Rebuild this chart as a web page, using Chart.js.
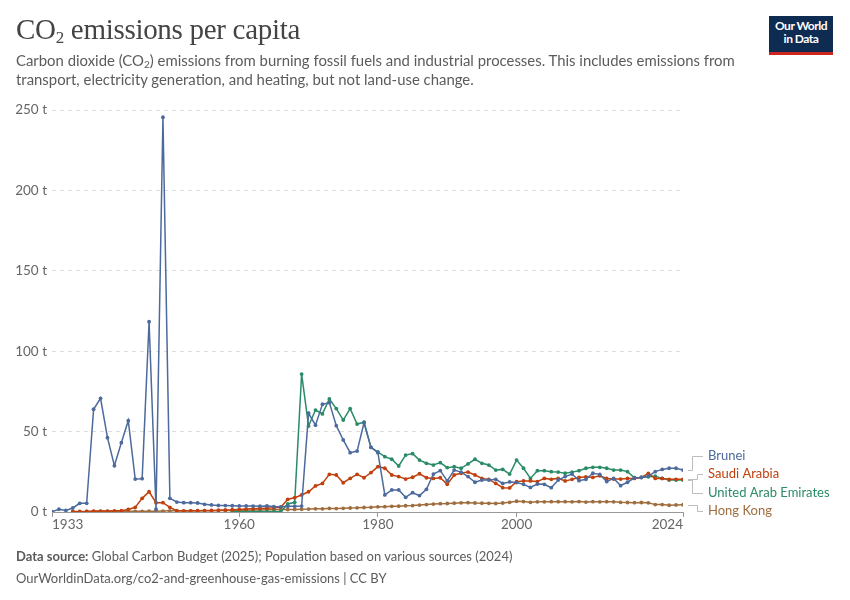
<!DOCTYPE html>
<html>
<head>
<meta charset="utf-8">
<script src="https://cdn.jsdelivr.net/npm/chart.js@4"></script>
<style>
  body { margin: 0; background: #fff; font-family: Lato, sans-serif; }
  #wrap { position: relative; width: 850px; height: 600px; overflow: hidden; }
  #chart { position: absolute; left: 0; top: 0; }
  .title { position: absolute; left: 16px; top: 13px; font-family: "Liberation Serif", serif; font-size: 29px; color: #444; letter-spacing: -0.3px; }
  .title sub { font-size: 17px; vertical-align: -4px; line-height: 0; }
  .subtitle { position: absolute; left: 16px; top: 51px; width: 760px; font-size: 14.9px; line-height: 19px; color: #5b5b5b; }
  .subtitle sub { font-size: 10px; vertical-align: -2px; line-height: 0; }
  .logo { position: absolute; left: 769px; top: 16px; width: 64px; height: 33px; background: #0e2b52; border-bottom: 3px solid #ce261e; color: #fff; font-size: 12px; font-weight: bold; line-height: 13px; text-align: center; padding-top: 3px; box-sizing: content-box; letter-spacing: -0.5px; }
  .footer { position: absolute; left: 16px; top: 545px; font-size: 13px; line-height: 22px; color: #5b5b5b; }
  .footer b { font-weight: bold; }
</style>
</head>
<body>
<div id="wrap">
  <canvas id="chart" width="850" height="600"></canvas>
  <div class="title">CO<sub>2</sub> emissions per capita</div>
  <div class="subtitle">Carbon dioxide (CO<sub>2</sub>) emissions from burning fossil fuels and industrial processes. This includes emissions from transport, electricity generation, and heating, but not land-use change.</div>
  <div class="logo">Our World<br>in Data</div>
  <div class="footer"><b>Data source:</b> Global Carbon Budget (2025); Population based on various sources (2024)<br>OurWorldinData.org/co2-and-greenhouse-gas-emissions | CC BY</div>
</div>
<script>
// years 1933..2024, one value per year (null = no data)
const firstYear = 1933;
const lastYear = 2024;
const xTicks = [1933, 1960, 1980, 2000, 2024];
const yTicks = [0, 50, 100, 150, 200, 250];

const brunei = [
  0.2, 1.7, 1.0, 2.5, 5.4, 5.4, 63.9, 70.7, 46.2, 28.8, 43.1, 56.8, 20.5, 20.7, 118.3, 1.7, 245.5,
  8.5, 6.2, 5.8, 5.8, 5.6, 4.8, 4.4, 4.1, 4.0, 3.9,
  3.8, 3.8, 3.7, 3.6, 3.8, 3.4, 3.2, 3.5, 3.6, 3.7,
  61.4, 54, 67, 68, 53.7, 44.8, 36.9, 37.9, 55.5, 40.2,
  36.9, 10.6, 13.7, 13.7, 9.1, 12, 10.2, 14.1, 23.6, 25.7,
  19.3, 26.1, 24.8, 22, 18.5, 19.9, 19.9, 20.3, 17.8, 18.7,
  18.3, 17.2, 15.3, 17.4, 17.2, 15.1, 19.9, 22, 23.6, 19.5,
  20.3, 24.1, 23.4, 18.9, 20.9, 16.4, 18.5, 21.3, 21.5, 22.3,
  25.1, 26.5, 27.2, 27.2, 26.1
];

const saudiArabia = [
  null, null, null, 0.2, 0.2, 0.3, 0.5, 0.6, 0.6, 0.7, 0.8, 1.6, 2.9, 8.5, 12.6, 5.8, 5.8,
  2.9, 0.8, 0.6, 0.7, 0.8, 0.9, 1.0, 1.1, 1.3, 1.4,
  1.6, 1.8, 2.0, 2.2, 2.4, 2.6, 3.0, 7.9, 8.9, 10.6,
  12.6, 16.2, 17.8, 23.4, 23, 18.2, 20.9, 23.4, 21.3, 24.5,
  28.2, 27.2, 23, 22, 20.5, 21.6, 23.8, 21.3, 20.9, 21.3,
  17.2, 23, 24.1, 24.8, 23, 20.9, 20.3, 17.8, 15.1, 15,
  18.9, 19.3, 19.3, 18.9, 20.9, 20.3, 20.9, 19.3, 20.3, 21.5,
  21.9, 21.5, 22.5, 20.9, 20.5, 20.5, 20.9, 20.9, 21.5, 24,
  20.9, 20.9, 20.3, 20.3, 20.3
];

const uae = [
  null, null, null, null, null, null, null, null, null, null, null, null, null, null, null, null, null,
  null, null, null, null, null, null, null, null, null, 0.2,
  0.2, 0.2, 0.2, 0.2, 0.2, 0.2, 0.2, 5, 6, 85.8,
  53.5, 63.4, 61, 70.3, 64.3, 57.2, 64.3, 54.7, 55.8, 40.2,
  37.3, 34.4, 32.8, 28.6, 35.4, 36.3, 32.3, 30.3, 29.2, 30.7,
  27.6, 28.2, 27.2, 29.9, 32.8, 30.3, 29.2, 26.1, 26.5, 23.6,
  32.3, 27.2, 20.9, 25.7, 25.7, 25.1, 24.8, 24.1, 24.8, 25.7,
  27.2, 27.8, 27.8, 27.2, 26.1, 26.1, 25.1, 21.3, 21.5, 21.9,
  22.3, 20.9, 19.9, 19.9, 19.9
];

const hongKong = [
  null, null, null, 0.3, 0.3, 0.3, 0.4, 0.4, 0.4, 0.4, 0.4, 0.4, 0.4, 0.4, 0.5, 0.5, 0.6,
  0.7, 0.7, 0.7, 0.7, 0.8, 0.8, 0.8, 0.9, 0.9, 1.0,
  1.1, 1.1, 1.2, 1.3, 1.4, 1.4, 1.5, 1.5, 1.6, 1.7,
  1.8, 2.0, 2.0, 2.2, 2.1, 2.3, 2.5, 2.6, 2.8, 2.9,
  3.2, 3.3, 3.5, 3.6, 3.9, 4.0, 4.3, 4.6, 4.9, 5.2,
  5.3, 5.5, 5.7, 5.8, 5.6, 5.5, 5.4, 5.3, 5.6, 6.0,
  6.7, 6.5, 6.0, 6.3, 6.3, 6.4, 6.4, 6.4, 6.3, 6.5,
  6.2, 6.4, 6.3, 6.4, 6.3, 6.0, 5.9, 5.8, 5.9, 5.7,
  4.6, 4.6, 4.2, 4.4, 4.5
];

const seriesNames = ['Brunei', 'Saudi Arabia', 'United Arab Emirates', 'Hong Kong'];
const seriesColors = ['#4c6a9c', '#c0400e', '#2a8c67', '#9f6e3f'];
const seriesValues = [brunei, saudiArabia, uae, hongKong];

const years = [];
for (let y = firstYear; y <= lastYear; y++) years.push(y);

const FONT = 'Lato, sans-serif';

// line-end labels with little elbow connectors
const endLabels = {
    id: 'endLabels',
    afterDatasetsDraw(chart) {
        const ctx = chart.ctx;
        const gap = 18.5;
        const items = chart.data.datasets.map((ds, i) => {
            const pts = chart.getDatasetMeta(i).data;
            const last = pts[pts.length - 1];
            return { name: ds.label, color: ds.borderColor, x: last.x, y: last.y, ly: last.y };
        }).sort((a, b) => a.y - b.y);

        // merge overlapping labels into centred groups
        let groups = items.map(it => ({ items: [it], center: it.y }));
        let changed = true;
        while (changed) {
            changed = false;
            for (let i = 0; i < groups.length - 1; i++) {
                const a = groups[i], b = groups[i + 1];
                const aBottom = a.center + (a.items.length - 1) * gap / 2;
                const bTop = b.center - (b.items.length - 1) * gap / 2;
                if (bTop - aBottom < gap) {
                    const all = a.items.concat(b.items);
                    const c = all.reduce((s, it) => s + it.y, 0) / all.length;
                    groups.splice(i, 2, { items: all, center: c });
                    changed = true;
                    break;
                }
            }
        }
        groups.forEach(g => {
            g.items.forEach((it, k) => {
                it.ly = g.center + (k - (g.items.length - 1) / 2) * gap;
            });
        });

        ctx.save();
        ctx.font = '13px ' + FONT;
        ctx.textBaseline = 'middle';
        items.forEach((it) => {
            const elbow = it.x + (Math.abs(it.ly - it.y) > 12 ? 9 : 14);
            ctx.strokeStyle = '#bdbdbd';
            ctx.lineWidth = 1;
            ctx.beginPath();
            ctx.moveTo(it.x + 5, Math.round(it.y) + 0.5);
            ctx.lineTo(elbow + 0.5, Math.round(it.y) + 0.5);
            ctx.lineTo(elbow + 0.5, Math.round(it.ly) + 0.5);
            ctx.lineTo(it.x + 20, Math.round(it.ly) + 0.5);
            ctx.stroke();
            ctx.fillStyle = it.color;
            ctx.fillText(it.name, it.x + 25, it.ly);
        });
        ctx.restore();
    }
};

new Chart(document.getElementById('chart'), {
    type: 'line',
    data: {
        datasets: seriesNames.map((name, i) => ({
            label: name,
            data: seriesValues[i].map((v, j) => ({ x: years[j], y: v })),
            borderColor: seriesColors[i],
            backgroundColor: seriesColors[i],
            borderWidth: 1.5,
            pointRadius: 1.9,
            pointBorderWidth: 0,
            pointBackgroundColor: seriesColors[i],
            tension: 0,
            spanGaps: false
        }))
    },
    options: {
        responsive: false,
        animation: false,
        layout: { padding: { left: 0, top: 110, right: 167, bottom: 58 } },
        plugins: {
            legend: { display: false },
            tooltip: { enabled: false }
        },
        scales: {
            x: {
                type: 'linear',
                min: firstYear,
                max: lastYear,
                afterBuildTicks: (s) => { s.ticks = xTicks.map(v => ({ value: v })); },
                afterFit: (s) => { s.height = 30; },
                ticks: {
                    align: 'inner',
                    maxRotation: 0,
                    padding: 0,
                    color: '#666',
                    font: { family: FONT, size: 13.5 },
                    callback: (v) => String(v)
                },
                grid: { drawOnChartArea: false, drawTicks: true, tickLength: 5, tickColor: '#999' },
                border: { display: true, color: '#999', width: 1 }
            },
            y: {
                min: 0,
                max: 250,
                afterBuildTicks: (s) => { s.ticks = yTicks.map(v => ({ value: v })); },
                afterFit: (s) => { s.width = 52; },
                ticks: {
                    padding: 5,
                    color: '#666',
                    font: { family: FONT, size: 13.5 },
                    callback: (v) => v + ' t'
                },
                grid: { color: '#dcdcdc', drawTicks: false, lineWidth: 1 },
                border: { display: false, dash: [4, 4] }
            }
        }
    },
    plugins: [endLabels]
});
</script>
</body>
</html>
